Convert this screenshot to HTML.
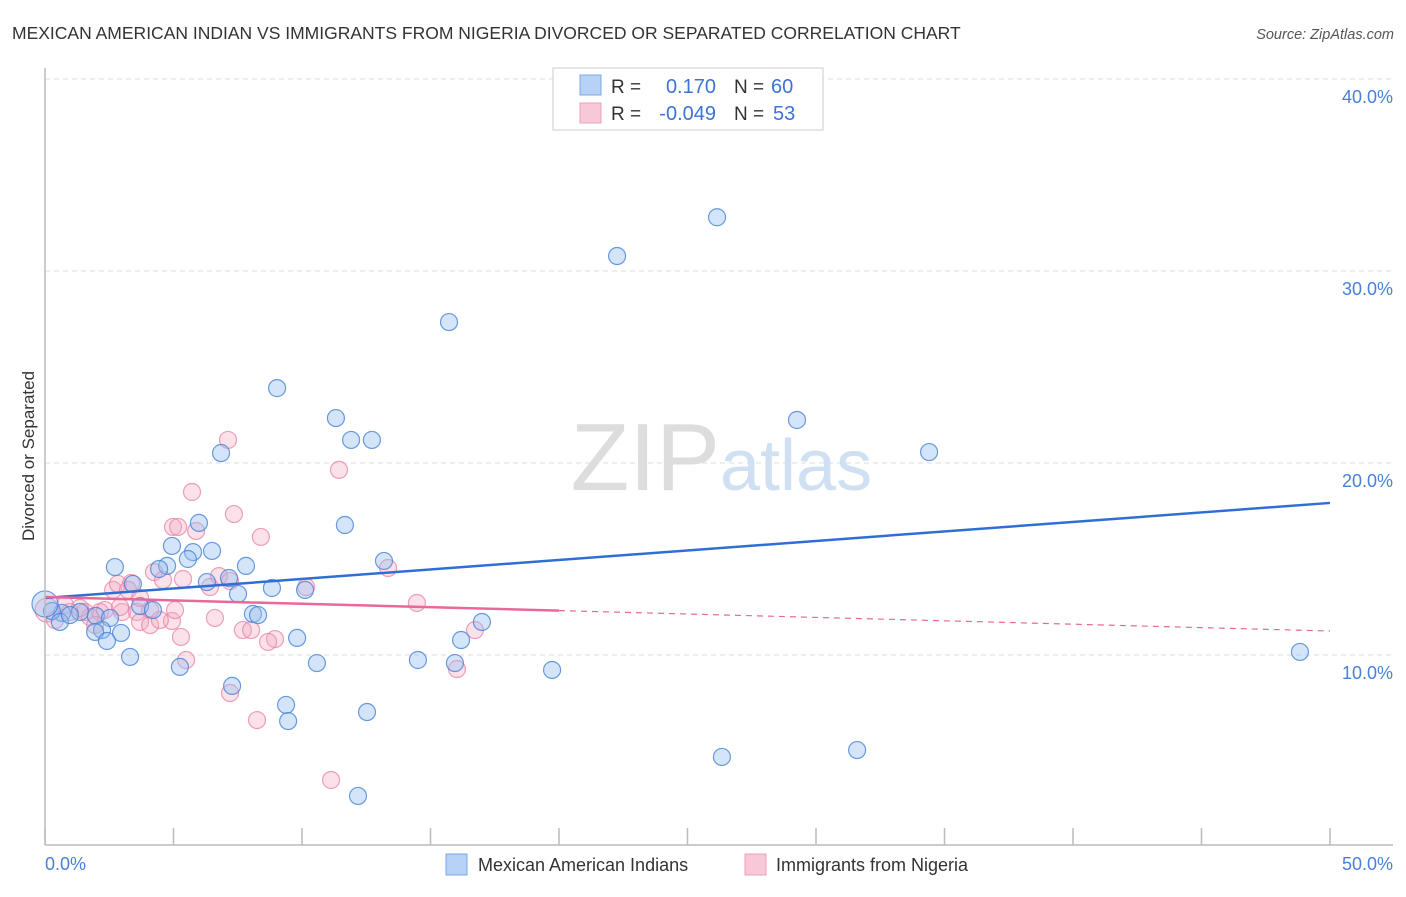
<!DOCTYPE html>
<html><head><meta charset="utf-8"><style>
body{margin:0;background:#fff;font-family:"Liberation Sans",sans-serif;}
svg text{font-family:"Liberation Sans",sans-serif;}
</style></head><body>
<svg width="1406" height="892" viewBox="0 0 1406 892">
<text x="12" y="39" font-size="17.5" fill="#333">MEXICAN AMERICAN INDIAN VS IMMIGRANTS FROM NIGERIA DIVORCED OR SEPARATED CORRELATION CHART</text>
<text x="1394" y="39" font-size="14.5" fill="#555" font-style="italic" text-anchor="end">Source: ZipAtlas.com</text>
<text transform="translate(34,456) rotate(-90)" font-size="17" fill="#333" text-anchor="middle">Divorced or Separated</text>
<g id="grid"></g>
<text x="720" y="490" font-size="96" fill="#ddd" text-anchor="end" font-family="Liberation Serif">ZIP</text>
<text x="720" y="490" font-size="72" fill="#cfe0f3">atlas</text>
<g id="pts"></g>
<g id="lines"></g>
<line x1="45" y1="68" x2="45" y2="845" stroke="#bbb" stroke-width="1.5"/>
<line x1="45" y1="845" x2="1393" y2="845" stroke="#bbb" stroke-width="1.5"/>
<text x="45" y="870" font-size="18" fill="#4a7fd6">0.0%</text>
<text x="1393" y="870" font-size="18" fill="#4a7fd6" text-anchor="end">50.0%</text>
<g>
<rect x="553" y="68" width="270" height="62" fill="#fff" stroke="#ccc"/>
<rect x="580" y="75" width="21" height="20" fill="#b7d2f5" stroke="#7aa7e8"/>
<rect x="580" y="103" width="21" height="20" fill="#f9c8d8" stroke="#eda0b8"/>
<text x="611" y="93" font-size="19" fill="#333">R =</text>
<text x="716" y="93" font-size="20" fill="#3d73d6" text-anchor="end">0.170</text>
<text x="734" y="93" font-size="19" fill="#333">N =</text>
<text x="771" y="93" font-size="20" fill="#3d73d6">60</text>
<text x="611" y="120" font-size="19" fill="#333">R =</text>
<text x="716" y="120" font-size="20" fill="#3d73d6" text-anchor="end">-0.049</text>
<text x="734" y="120" font-size="19" fill="#333">N =</text>
<text x="773" y="120" font-size="20" fill="#3d73d6">53</text>
</g>
<g>
<rect x="446" y="854" width="21" height="21" fill="#b7d2f5" stroke="#7aa7e8"/>
<text x="478" y="871" font-size="18" fill="#333">Mexican American Indians</text>
<text x="776" y="871" font-size="18" fill="#333">Immigrants from Nigeria</text>
<rect x="745" y="854" width="21" height="21" fill="#f9c8d8" stroke="#eda0b8"/>
</g>
</svg>
<script>
const yTicks=[10,20,30,40];
const yTickLabels=["10.0%","20.0%","30.0%","40.0%"];
const blueX=[26.15,22.26,15.72,9.03,11.32,29.26,11.91,12.72,6.85,34.4,5.99,11.67,4.94,5.76,6.5,13.19,2.72,4.75,4.44,7.82,5.56,6.3,7.16,3.42,8.83,10.12,7.51,3.7,4.2,8.09,8.29,0.66,1.36,1.98,2.53,0.27,0.58,2.22,1.95,2.96,9.81,16.19,17.0,2.41,3.31,5.25,10.58,14.51,15.95,19.73,48.83,7.28,9.38,9.46,12.53,26.34,31.6,12.18,0.0,0.97];
const blueY=[32.8,30.78,27.34,23.9,22.34,22.24,21.2,21.2,20.52,20.57,16.88,16.77,15.68,15.36,15.42,14.9,14.58,14.64,14.48,14.64,15.0,13.8,14.01,13.7,13.49,13.39,13.18,12.55,12.34,12.14,12.08,12.19,12.24,12.03,11.93,12.29,11.72,11.3,11.2,11.15,10.89,10.78,11.72,10.73,9.9,9.38,9.58,9.74,9.58,9.22,10.16,8.39,7.4,6.56,7.03,4.69,5.05,2.66,12.66,12.08];
const pinkX=[7.12,11.44,5.72,7.35,8.4,4.98,5.18,5.88,4.24,4.59,5.37,6.77,7.2,6.42,2.65,2.84,3.35,3.23,10.16,13.35,14.47,0.08,0.97,1.56,2.14,3.0,3.58,4.09,3.7,4.09,4.94,6.61,5.29,7.7,8.02,8.95,8.68,16.73,5.49,7.2,8.25,11.13,16.03,0.39,1.75,0.78,2.33,4.47,1.36,1.95,2.92,3.7,5.06];
const pinkY=[21.2,19.64,18.49,17.34,16.15,16.67,16.67,16.46,14.32,13.91,13.96,14.11,13.85,13.54,13.39,13.7,13.75,13.39,13.54,14.53,12.71,12.34,12.24,12.24,12.24,12.24,12.24,12.34,11.72,11.56,11.77,11.93,10.94,11.3,11.3,10.83,10.68,11.3,9.74,8.02,6.61,3.49,9.27,11.82,11.98,12.6,12.34,11.82,12.45,11.56,12.5,12.97,12.34];
const blueTrend=[12.97,17.92];
const pinkTrend=[13.02,11.25];
const pinkSolidEnd=20;
const NS="http://www.w3.org/2000/svg";
const sx=v=>45+v*25.7, sy=v=>847-v*19.2;
const grid=document.getElementById('grid');
yTicks.forEach((t,i)=>{
 const l=document.createElementNS(NS,'line');
 
 
 l.setAttribute('x1',45);l.setAttribute('x2',1393);l.setAttribute('y1',sy(t));l.setAttribute('y2',sy(t));
 l.setAttribute('stroke','#ddd');l.setAttribute('stroke-dasharray','5,4');
 grid.appendChild(l);
 const tx=document.createElementNS(NS,'text');
 
 
 tx.setAttribute('x',1393);tx.setAttribute('y',sy(t)+24);tx.setAttribute('text-anchor','end');
 tx.setAttribute('font-size','18');tx.setAttribute('fill','#4a7fd6');tx.textContent=yTickLabels[i];
 grid.appendChild(tx);
});
for(let i=0;i<=10;i++){
 const l=document.createElementNS(NS,'line');
 
 
 l.setAttribute('x1',sx(i*5));l.setAttribute('x2',sx(i*5));l.setAttribute('y1',828);l.setAttribute('y2',845);
 l.setAttribute('stroke','#bbb');l.setAttribute('stroke-width','1.5');
 grid.appendChild(l);
}
const pts=document.getElementById('pts');
function dot(x,y,fill,stroke,r,name){
 const c=document.createElementNS(NS,'circle');
 
 
 c.setAttribute('cx',sx(x));c.setAttribute('cy',sy(y));c.setAttribute('r',r);
 c.setAttribute('fill',fill);c.setAttribute('stroke',stroke);c.setAttribute('stroke-width','1.2');
 pts.appendChild(c);
}
pinkX.forEach((x,i)=>dot(x,pinkY[i],'rgba(244,170,195,0.35)','rgba(232,130,165,0.75)',i==21?12:8.5,'point-nigeria'));
blueX.forEach((x,i)=>dot(x,blueY[i],'rgba(150,190,240,0.4)','rgba(70,130,215,0.8)',i==58?13:8.5,'point-mexican'));
const lines=document.getElementById('lines');
function ln(x1,y1,x2,y2,col,w,dash,name){
 const l=document.createElementNS(NS,'line');
 
 
 l.setAttribute('x1',sx(x1));l.setAttribute('y1',sy(y1));l.setAttribute('x2',sx(x2));l.setAttribute('y2',sy(y2));
 l.setAttribute('stroke',col);l.setAttribute('stroke-width',w);if(dash)l.setAttribute('stroke-dasharray',dash);
 lines.appendChild(l);
}
const pAt=x=>pinkTrend[0]+(pinkTrend[1]-pinkTrend[0])*x/50;
ln(0,blueTrend[0],50,blueTrend[1],'#2f6fd4',2.5,null,'trend-line-mexican');
ln(0,pinkTrend[0],pinkSolidEnd,pAt(pinkSolidEnd),'#e8689a',2.5,null,'trend-line-nigeria');
ln(pinkSolidEnd,pAt(pinkSolidEnd),50,pinkTrend[1],'#e8689a',1.2,'6,5','trend-line-nigeria-extrapolated');
</script>
</body></html>
